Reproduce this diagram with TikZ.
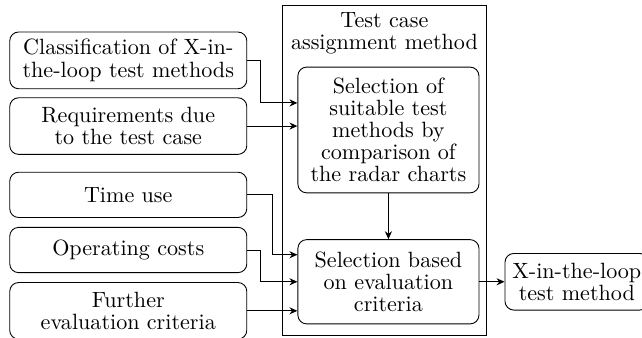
\documentclass[tikz,border=0pt]{standalone}
\usepackage{tikz}
\usetikzlibrary{positioning, arrows.meta, calc}

\newcommand{\tightlines}{\fontsize{10}{10}\selectfont}

\begin{document}
\begin{tikzpicture}[node distance=0.13cm, auto, >={Stealth[length=3.6pt, width=3.2pt]},
  inbox/.style={draw, rectangle, rounded corners, align=center, font=\tightlines,
    minimum width=3.77cm, minimum height=#1},
  inbox/.default=0.9cm,
  stepbox/.style={draw, rectangle, rounded corners, align=center, font=\tightlines,
    minimum width=2.88cm}]
  \useasboundingbox (0,0) rectangle (10.21,-5.36);
  % frame of the assignment method
  \node[draw, rectangle, minimum width=3.23cm, minimum height=5.26cm] (frame) at (6.114,-2.711) {};
  \node[align=center, font=\tightlines] (title) [below=0pt of frame.north] {Test case\\assignment method};
  % inputs
  \node[inbox] (cls) at (2.04,-0.96) {Classification of X-in-\\the-loop test methods};
  \node[inbox] (req) [below=of cls] {Requirements due\\to the test case};
  \node[inbox=0.72cm] (time) [below=0.27cm of req] {Time use};
  \node[inbox=0.72cm] (oper) [below=0.143cm of time] {Operating costs};
  \node[inbox] (fur) [below=0.143cm of oper] {Further\\evaluation criteria};
  % steps
  \node[stepbox, minimum height=2cm] (sel) at (6.177,-2.067) {Selection of\\suitable test\\methods by\\comparison of\\the radar charts};
  \node[stepbox, minimum height=1.34cm] (eval) [below=0.73cm of sel] {Selection based\\on evaluation\\criteria};
  \node[draw, rectangle, rounded corners, align=center, font=\tightlines, minimum height=0.9cm] (out) [right=0.4cm of eval] {X-in-the-loop\\test method};
  \draw[->] (cls.east) -- ++(0.21,0) |- ($(sel.west)+(0,0.43)$);
  \draw[->] (req.east) -- (req.east -| sel.west);
  \draw[->] (time.east) -- ++(0.4,0) |- ($(eval.west)+(0,0.43)$);
  \draw[->] (oper.east) -- ++(0.21,0) |- (eval.west);
  \draw[->] (fur.east) -- (fur.east -| eval.west);
  \draw[->] (sel) -- (eval);
  \draw[->] (eval) -- (out);
\end{tikzpicture}
\end{document}
